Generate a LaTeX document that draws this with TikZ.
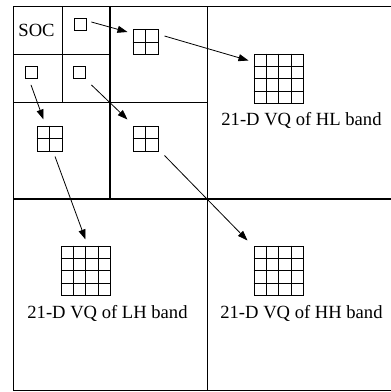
\documentclass[tikz,border=0pt]{standalone}
\usepackage{fontspec}
\setmainfont{Liberation Serif}
\usetikzlibrary{arrows.meta,calc}
\tikzset{
  frame/.style={line width=1pt},
  heavy/.style={line width=1.5pt},
  smallsq/.style={draw, line width=0.8pt, minimum size=12pt, inner sep=0pt},
  gridtwo/.style={draw, line width=1pt, minimum size=25pt, inner sep=0pt},
  gridfour/.style={draw, line width=1pt, minimum size=49pt, inner sep=0pt},
  lbl/.style={font=\fontsize{18.6}{22}\selectfont, inner sep=0pt, anchor=base},
  conn/.style={line width=0.8pt, -{Triangle[length=10pt,width=7pt]}}
}
\begin{document}
\begin{tikzpicture}[x=1pt,y=-1pt]
\useasboundingbox (0,0) rectangle (391,392);
% frame
\draw[frame] (392,6) -- (13,6) -- (13,390.5);
\draw[heavy] (13,390.5) -- (392,390.5);
\draw[heavy] (13,199) -- (392,199);
\draw[frame] (207,6) -- (207,390.5);
\draw[heavy] (110,6) -- (110,199);
\draw[frame] (13,102) -- (207,102);
\draw[frame] (62,6) -- (62,102);
\draw[frame] (13,54) -- (110,54);
% nodes
\node[lbl] (soc) at (36.5,36) {SOC};
\node[smallsq] (sqa) at (80,24) {};
\node[smallsq] (sqb) at (31,72.5) {};
\node[smallsq] (sqc) at (79,72.5) {};
\node[gridtwo] (ga) at (145.5,42) {};
\node[gridtwo] (gb) at (49.5,138.5) {};
\node[gridtwo] (gc) at (145.5,138.5) {};
\node[gridfour] (hl) at (278.5,78.5) {};
\node[gridfour] (lh) at (85.5,270.5) {};
\node[gridfour] (hh) at (278.5,270.5) {};
\foreach \n in {ga,gb,gc} {
  \draw[line width=1pt] (\n.north) -- (\n.south);
  \draw[line width=1pt] (\n.west) -- (\n.east);
}
\foreach \n in {hl,lh,hh} {
  \foreach \i in {1,2,3} {
    \draw[line width=1pt] ($(\n.north west)!\i/4!(\n.north east)$) -- ($(\n.south west)!\i/4!(\n.south east)$);
    \draw[line width=1pt] ($(\n.north west)!\i/4!(\n.south west)$) -- ($(\n.north east)!\i/4!(\n.south east)$);
  }
}
\node[lbl] (hltext) at (301.5,125.5) {21-D VQ of HL band};
\node[lbl] (lhtext) at (107.5,318) {21-D VQ of LH band};
\node[lbl] (hhtext) at (301.5,318) {21-D VQ of HH band};
% connectors
\draw[conn] ([xshift=5pt,yshift=2pt]sqa.east) -- ([xshift=-5pt,yshift=-3pt]ga.north west);
\draw[conn] ([xshift=6pt,yshift=-7pt]ga.north east) -- ([xshift=-5pt,yshift=-7pt]hl.north west);
\draw[conn] ([yshift=-6pt]sqb.south) -- ([xshift=-6pt,yshift=6pt]gb.north);
\draw[conn] ([xshift=6pt,yshift=-6pt]sqc.south east) -- ([xshift=-5pt,yshift=6pt]gc.north west);
\draw[conn] ([xshift=5.5pt,yshift=-5pt]gb.south) -- ([yshift=6pt]lh.north);
\draw[conn] ([xshift=6pt,yshift=-4pt]gc.south east) -- ([xshift=-6pt,yshift=5pt]hh.north west);
\end{tikzpicture}
\end{document}
